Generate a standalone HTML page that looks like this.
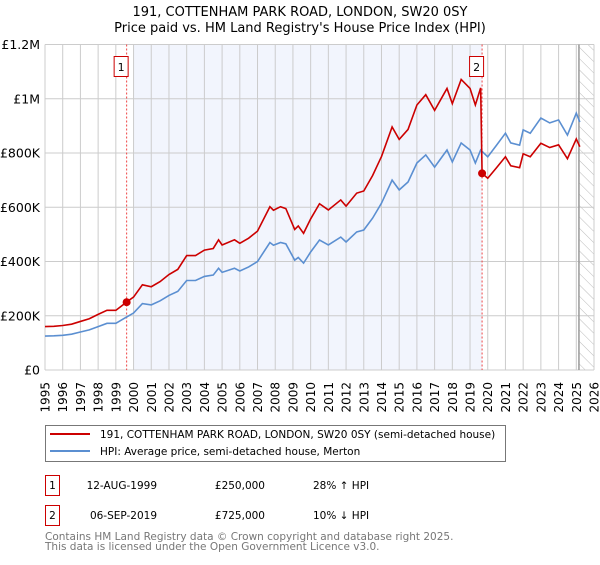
<!DOCTYPE html>
<html><head><meta charset="utf-8"><style>
body{margin:0;background:#fff;font-family:"Liberation Sans","DejaVu Sans",sans-serif;}
svg text{font-family:"DejaVu Sans","Liberation Sans",sans-serif;}
</style></head><body>
<svg id="c" width="600" height="560" viewBox="0 0 600 560" xmlns="http://www.w3.org/2000/svg">
<defs><pattern id="hatch" patternUnits="userSpaceOnUse" width="8" height="8" patternTransform="rotate(-45)"><line x1="0" y1="0" x2="0" y2="8" stroke="#bbb" stroke-width="1"/></pattern></defs>
<text x="300" y="16" text-anchor="middle" font-size="13">191, COTTENHAM PARK ROAD, LONDON, SW20 0SY</text>
<text x="300" y="32" text-anchor="middle" font-size="13">Price paid vs. HM Land Registry's House Price Index (HPI)</text>
<g id="plot"></g>
<g>
<rect x="45.5" y="425.5" width="460" height="36" fill="#fff" stroke="#777"/>
<line x1="50" y1="434" x2="90" y2="434" stroke="#cc0000" stroke-width="2"/>
<text x="100" y="438" font-size="10.5">191, COTTENHAM PARK ROAD, LONDON, SW20 0SY (semi-detached house)</text>
<line x1="50" y1="451" x2="90" y2="451" stroke="#5b8fd1" stroke-width="2"/>
<text x="100" y="455" font-size="10.5">HPI: Average price, semi-detached house, Merton</text>
</g>
<g font-size="10.5">
<rect x="45.5" y="475.5" width="14" height="20" fill="#fff" stroke="#cc0000"/>
<text x="52.5" y="489" text-anchor="middle">1</text>
<text x="157" y="489" text-anchor="end">12-AUG-1999</text>
<text x="265" y="489" text-anchor="end">£250,000</text>
<text x="313" y="489">28% ↑ HPI</text>
<rect x="45.5" y="505.5" width="14" height="20" fill="#fff" stroke="#cc0000"/>
<text x="52.5" y="519" text-anchor="middle">2</text>
<text x="157" y="519" text-anchor="end">06-SEP-2019</text>
<text x="265" y="519" text-anchor="end">£725,000</text>
<text x="313" y="519">10% ↓ HPI</text>
</g>
<text x="45" y="540" font-size="10.5" fill="#777">Contains HM Land Registry data © Crown copyright and database right 2025.</text>
<text x="45" y="550" font-size="10.5" fill="#777">This data is licensed under the Open Government Licence v3.0.</text>
</svg>
<script>
const hpiYears=[1995,1995.5,1996,1996.5,1997,1997.5,1998,1998.5,1999,1999.6,2000,2000.5,2001,2001.5,2002,2002.5,2003,2003.5,2004,2004.5,2004.8,2005,2005.7,2006,2006.5,2007,2007.7,2007.9,2008.3,2008.6,2009.1,2009.3,2009.6,2010,2010.5,2011,2011.7,2012,2012.6,2013,2013.5,2014,2014.6,2015,2015.5,2016,2016.5,2017,2017.5,2017.7,2018,2018.5,2019,2019.3,2019.6,2020,2020.5,2021,2021.3,2021.8,2022,2022.4,2023,2023.5,2024,2024.5,2025,2025.2];
const hpiValues=[125000,126000,128000,132000,140000,148000,160000,172000,172000,195000,210000,245000,240000,255000,275000,290000,330000,330000,345000,350000,375000,360000,375000,365000,380000,400000,470000,460000,470000,465000,405000,415000,394000,435000,479000,461000,490000,472000,509000,516000,560000,615000,700000,664000,693000,763000,793000,748000,793000,811000,767000,837000,811000,763000,811000,786000,829000,873000,837000,829000,885000,873000,929000,911000,922000,866000,947000,914000];
const priceYears=[1995,1995.5,1996,1996.5,1997,1997.5,1998,1998.5,1999,1999.6,2000,2000.5,2001,2001.5,2002,2002.5,2003,2003.5,2004,2004.5,2004.8,2005,2005.7,2006,2006.5,2007,2007.7,2007.9,2008.3,2008.6,2009.1,2009.3,2009.6,2010,2010.5,2011,2011.7,2012,2012.6,2013,2013.5,2014,2014.6,2015,2015.5,2016,2016.5,2017,2017.5,2017.7,2018,2018.5,2019,2019.3,2019.6,2019.68,2020,2020.5,2021,2021.3,2021.8,2022,2022.4,2023,2023.5,2024,2024.5,2025,2025.2];
const priceValues=[160000,161000,164000,169000,179000,189000,205000,220000,220000,250000,269000,314000,307000,326000,352000,371000,422000,422000,442000,448000,480000,461000,480000,467000,486000,512000,602000,589000,602000,595000,518000,531000,504000,557000,613000,590000,627000,604000,652000,660000,717000,787000,896000,850000,887000,977000,1015000,957000,1015000,1038000,982000,1071000,1038000,977000,1040000,725000,707000,746000,786000,753000,746000,797000,786000,836000,820000,830000,779000,852000,823000];
const saleYears=[1999.61,2019.68];
const saleValues=[250000,725000];
const saleLabels=["1","2"];
const yTicks=[0,200000,400000,600000,800000,1000000,1200000];
const yTickLabels=["£0","£200K","£400K","£600K","£800K","£1M","£1.2M"];
const xYears=[1995,1996,1997,1998,1999,2000,2001,2002,2003,2004,2005,2006,2007,2008,2009,2010,2011,2012,2013,2014,2015,2016,2017,2018,2019,2020,2021,2022,2023,2024,2025,2026];

const NS="http://www.w3.org/2000/svg";
const X0=45,X1=594,Y0=370,Y1=44.5;
const xs=y=>X0+(y-1995)/(2026-1995)*(X1-X0);
const ys=v=>Y0-v/1200000*(Y0-Y1);
const plot=document.getElementById('plot');
function mk(tag,attrs,parent){const e=document.createElementNS(NS,tag);for(const k in attrs)e.setAttribute(k,attrs[k]);(parent||plot).appendChild(e);return e;}

let r=mk('rect',{x:xs(2000),y:Y1,width:xs(saleYears[1])-xs(2000),height:Y0-Y1,fill:'#f2f5fd'});


let h=mk('rect',{x:xs(2025.15),y:Y1,width:X1-xs(2025.15),height:Y0-Y1,fill:'url(#hatch)'});



xYears.forEach(yr=>{
  const l=mk('line',{x1:xs(yr),x2:xs(yr),y1:Y1,y2:Y0,stroke:'#ccc','stroke-width':1});
  
  
  const t=mk('text',{x:0,y:0,'font-size':12,'text-anchor':'end',transform:`translate(${xs(yr)+4.5},382) rotate(-90)`});
  t.textContent=yr;
  
  
});
yTicks.forEach((v,i)=>{
  const l=mk('line',{x1:X0,x2:X1,y1:ys(v),y2:ys(v),stroke:'#ccc','stroke-width':1});
  
  
  const t=mk('text',{x:40,y:ys(v)+4.5,'font-size':12.5,'text-anchor':'end'});
  t.textContent=yTickLabels[i];
  
  
});
let fl=mk('line',{x1:xs(2025.15),x2:xs(2025.15),y1:Y1,y2:Y0,stroke:'#999','stroke-width':1.5});



saleYears.forEach((yr,i)=>{
  const l=mk('line',{x1:xs(yr),x2:xs(yr),y1:Y1,y2:Y0,stroke:'#ee4444','stroke-width':1,'stroke-dasharray':'2,2'});
  
  
});

let hp=mk('polyline',{points:hpiYears.map((y,i)=>xs(y)+','+ys(hpiValues[i])).join(' '),fill:'none',stroke:'#5b8fd1','stroke-width':1.6});


let pp=mk('polyline',{points:priceYears.map((y,i)=>xs(y)+','+ys(priceValues[i])).join(' '),fill:'none',stroke:'#cc0000','stroke-width':1.6});



saleYears.forEach((yr,i)=>{
  const c=mk('circle',{cx:xs(yr),cy:ys(saleValues[i]),r:4,fill:'#cc0000'});
  
  
  const b=mk('rect',{x:xs(yr)-12.5,y:56.5,width:14,height:20,fill:'#fff',stroke:'#cc0000'});
  
  
  const t=mk('text',{x:xs(yr)-5.5,y:71,'font-size':11,'text-anchor':'middle'});
  t.textContent=saleLabels[i];
  
  
});
</script>
</body></html>
